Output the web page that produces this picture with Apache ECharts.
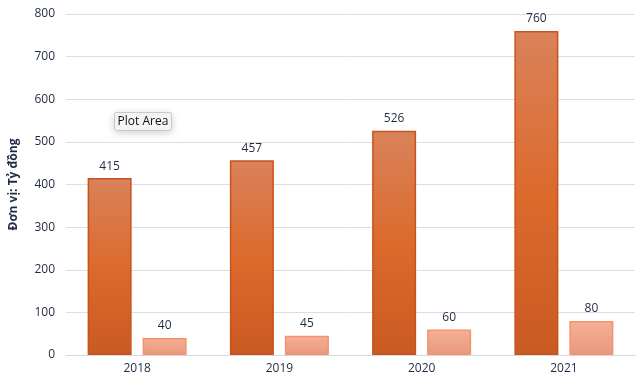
<!DOCTYPE html>
<html><head><meta charset="utf-8">
<script src="https://cdn.jsdelivr.net/npm/echarts@6/dist/echarts.min.js"></script>
<style>html,body{margin:0;padding:0;background:#fff}#c{width:640px;height:375px}</style>
</head><body><div id="c"></div>
<script>
const categories = ['2018', '2019', '2020', '2021'];
const seriesA = [415, 457, 526, 760];
const seriesB = [40, 45, 60, 80];
const yTicks = [0, 100, 200, 300, 400, 500, 600, 700, 800];
const yAxisName = 'Đơn vị: Tỷ đồng';

const chart = echarts.init(document.getElementById('c'));
const font = 'Open Sans, Lato, sans-serif';
chart.setOption({
  animation: false,
  grid: {left: 65, right: 5, top: 14, bottom: 20},
  xAxis: {
    type: 'category', data: categories,
    axisLine: {lineStyle: {color: '#D3D9E3', width: 1}},
    axisTick: {show: false},
    axisLabel: {color: '#1F2A44', fontSize: 12, fontFamily: font, margin: 8}
  },
  yAxis: {
    type: 'value', min: yTicks[0], max: yTicks[yTicks.length - 1], interval: 100,
    name: yAxisName, nameLocation: 'middle', nameGap: 46, nameRotate: 90,
    nameTextStyle: {color: '#1F2A44', fontSize: 12, fontWeight: 'bold', fontFamily: font},
    axisLine: {show: false}, axisTick: {show: false},
    axisLabel: {color: '#1F2A44', fontSize: 12, fontFamily: font, margin: 11},
    splitLine: {lineStyle: {color: '#D9DEE7', width: 1}}
  },
  series: [
    {
      type: 'bar', data: seriesA, barWidth: 44, barGap: '25%',
      itemStyle: {
        color: new echarts.graphic.LinearGradient(0, 0, 0, 1, [
          {offset: 0, color: '#D9825A'},
          {offset: 0.5, color: '#DC6A2D'},
          {offset: 1, color: '#C95A22'}
        ]),
        borderColor: '#C9521B', borderWidth: 1.5
      },
      label: {show: true, position: 'top', distance: 6, color: '#1F2A44', fontSize: 12, fontFamily: font}
    },
    {
      type: 'bar', data: seriesB, barWidth: 44,
      itemStyle: {
        color: new echarts.graphic.LinearGradient(0, 0, 0, 1, [
          {offset: 0, color: '#F5B096'},
          {offset: 1, color: '#E9987C'}
        ]),
        borderColor: '#F2936E', borderWidth: 1.5
      },
      label: {show: true, position: 'top', distance: 6, color: '#1F2A44', fontSize: 12, fontFamily: font}
    }
  ],
  graphic: [{
    type: 'group', left: 114, top: 112,
    children: [
      {type: 'rect', shape: {x: 0, y: 0, width: 57, height: 18, r: 2},
       style: {fill: '#F7F7F7', stroke: '#C8C8C8', lineWidth: 1, shadowBlur: 8, shadowColor: 'rgba(0,0,0,0.18)', shadowOffsetY: 2}},
      {type: 'text', x: 28.5, y: 9, style: {text: 'Plot Area', fill: '#111', fontSize: 12, fontFamily: font, align: 'center', verticalAlign: 'middle'}}
    ]
  }]
});
</script></body></html>
